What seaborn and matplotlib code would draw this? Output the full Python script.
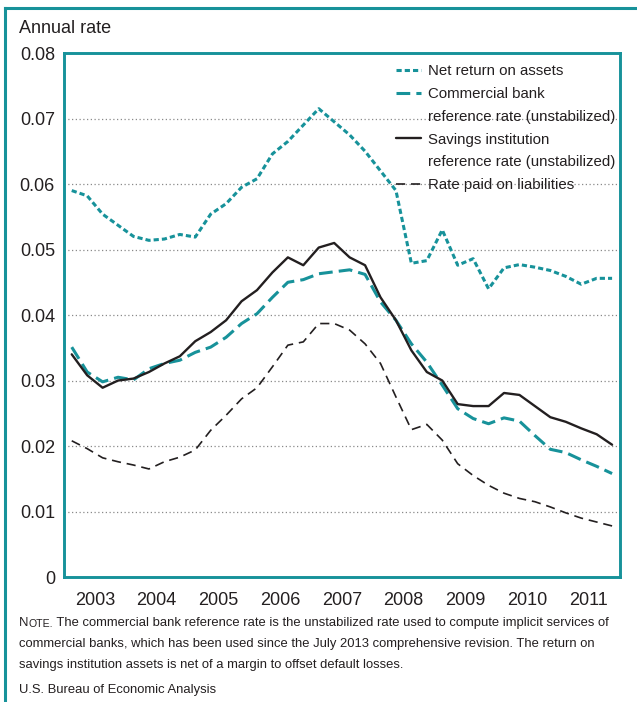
import numpy as np
import pandas as pd
import seaborn as sns
import matplotlib.pyplot as plt
from matplotlib.lines import Line2D
from matplotlib.ticker import FixedLocator, FixedFormatter

sns.set_style('white')
plt.rcParams['font.family'] = ['Liberation Sans', 'DejaVu Sans']

# %% data (quarterly, 2003Q1 - 2011Q4)
years = list(range(2003, 2012))
quarters = [1, 2, 3, 4]

net_return = [0.0590, 0.0582, 0.0554, 0.0537, 0.0520, 0.0514, 0.0516, 0.0523, 0.0519,
              0.0554, 0.0570, 0.0595, 0.0608, 0.0646, 0.0665, 0.0690, 0.0715, 0.0695,
              0.0675, 0.0650, 0.0620, 0.0590, 0.0479, 0.0483, 0.0530, 0.0476, 0.0486,
              0.0440, 0.0472, 0.0477, 0.0473, 0.0468, 0.0459, 0.0447, 0.0456, 0.0456]
commercial = [0.0351, 0.0313, 0.0298, 0.0305, 0.0301, 0.0318, 0.0326, 0.0331, 0.0343,
              0.0351, 0.0366, 0.0387, 0.0402, 0.0427, 0.0450, 0.0454, 0.0463, 0.0466,
              0.0469, 0.0462, 0.0420, 0.0392, 0.0356, 0.0328, 0.0293, 0.0257, 0.0242,
              0.0234, 0.0243, 0.0238, 0.0216, 0.0195, 0.0190, 0.0179, 0.0169, 0.0158]
savings = [0.0340, 0.0308, 0.0289, 0.0300, 0.0303, 0.0313, 0.0326, 0.0337, 0.0360,
           0.0374, 0.0392, 0.0421, 0.0438, 0.0465, 0.0488, 0.0476, 0.0503, 0.0510,
           0.0488, 0.0476, 0.0427, 0.0392, 0.0346, 0.0313, 0.0300, 0.0264, 0.0261,
           0.0261, 0.0281, 0.0278, 0.0261, 0.0244, 0.0237, 0.0227, 0.0218, 0.0202]
liabilities = [0.0208, 0.0196, 0.0182, 0.0176, 0.0171, 0.0165, 0.0176, 0.0183, 0.0194,
               0.0224, 0.0247, 0.0272, 0.0289, 0.0321, 0.0354, 0.0359, 0.0387, 0.0387,
               0.0377, 0.0356, 0.0326, 0.0275, 0.0225, 0.0233, 0.0209, 0.0173, 0.0155,
               0.0140, 0.0128, 0.0120, 0.0115, 0.0107, 0.0098, 0.0090, 0.0084, 0.0078]

y_ticks = [0, 0.01, 0.02, 0.03, 0.04, 0.05, 0.06, 0.07, 0.08]
y_ticklabels = ['0', '0.01', '0.02', '0.03', '0.04', '0.05', '0.06', '0.07', '0.08']

TEAL = '#17929a'
INK = '#231f20'

# time axis: quarter midpoints
t = [y + (q - 0.5) / 4 for y in years for q in quarters]
df = pd.DataFrame({'t': t, 'net': net_return, 'comm': commercial,
                   'sav': savings, 'liab': liabilities})

# %% figure
fig = plt.figure(figsize=(6.37, 7.02), dpi=100)
ax = fig.add_axes([0.1005, 0.178, 0.8725, 0.7465])

ax.yaxis.grid(True, linestyle=(0, (1, 2)), color='#8a8a8a', linewidth=0.9)
ax.set_axisbelow(True)

sns.lineplot(data=df, x='t', y='net', ax=ax, color=TEAL, linewidth=2.2,
             linestyle=(0, (1.7, 1.0)))
sns.lineplot(data=df, x='t', y='comm', ax=ax, color=TEAL, linewidth=2.2,
             linestyle=(0, (4.5, 2.0)))
sns.lineplot(data=df, x='t', y='sav', ax=ax, color=INK, linewidth=1.7)
sns.lineplot(data=df, x='t', y='liab', ax=ax, color=INK, linewidth=1.2,
             linestyle=(0, (5.5, 3.5)))

ax.set_xlim(2003, 2012)
ax.set_ylim(0, 0.08)
ax.set_xlabel('')
ax.set_ylabel('')

ax.set_yticks(y_ticks)
ax.set_yticklabels(y_ticklabels)
ax.tick_params(axis='y', length=0, pad=6.5, labelsize=13, labelcolor=INK)

# year boundaries: long ticks; quarter boundaries: short ticks with year labels mid-year
ax.xaxis.set_major_locator(FixedLocator(years[1:]))
ax.xaxis.set_major_formatter(FixedFormatter([''] * len(years[1:])))
minor_pos = [y + f for y in years for f in (0.25, 0.5, 0.75)]
minor_lab = [s for y in years for s in ('', str(y), '')]
ax.xaxis.set_minor_locator(FixedLocator(minor_pos))
ax.xaxis.set_minor_formatter(FixedFormatter(minor_lab))
ax.tick_params(axis='x', which='major', direction='in', length=18, width=1.1,
               color='#333333', labelsize=13)
ax.tick_params(axis='x', which='minor', direction='in', length=9.5, width=1.1,
               color='#333333', labelsize=13, labelcolor=INK, pad=10.5)

for s in ax.spines.values():
    s.set_visible(True)
    s.set_color(TEAL)
    s.set_linewidth(2.1)

# legend with continuation lines
blank = Line2D([], [], color='none')
handles = [Line2D([], [], color=TEAL, linewidth=2.2, linestyle=(0, (1.7, 1.0))),
           Line2D([], [], color=TEAL, linewidth=2.2, linestyle=(0, (4.5, 2.0))),
           blank,
           Line2D([], [], color=INK, linewidth=1.7),
           blank,
           Line2D([], [], color=INK, linewidth=1.2, linestyle=(0, (5.5, 3.5)))]
labels = ['Net return on assets', 'Commercial bank', 'reference rate (unstabilized)',
          'Savings institution', 'reference rate (unstabilized)', 'Rate paid on liabilities']
leg = ax.legend(handles, labels, loc='upper left', bbox_to_anchor=(0.597, 0.979),
                frameon=False, fontsize=10.8, handlelength=1.7, handletextpad=0.45,
                labelspacing=0.59, borderpad=0, borderaxespad=0)
for txt in leg.get_texts():
    txt.set_color(INK)

# %% texts
fig.text(0.03, 0.96, 'Annual rate', fontsize=13, color=INK, ha='left', va='center')

nfs = 9.4
t1 = fig.text(0.03, 1 - 629 / 702, 'N', fontsize=nfs, color=INK, va='bottom')
t2 = ax.annotate('OTE.', xy=(1, 0), xycoords=t1, fontsize=7.6, color=INK, va='bottom')
ax.annotate(' The commercial bank reference rate is the unstabilized rate used to compute '
            'implicit services of', xy=(1, 0), xycoords=t2, fontsize=nfs, color=INK,
            va='bottom')
fig.text(0.03, 1 - 644 / 702, 'commercial banks, which has been used since the July 2013 '
         'comprehensive revision. The return on', fontsize=nfs, color=INK, va='center')
fig.text(0.03, 1 - 665 / 702, 'savings institution assets is net of a margin to offset '
         'default losses.', fontsize=nfs, color=INK, va='center')
fig.text(0.03, 1 - 690 / 702, 'U.S. Bureau of Economic Analysis', fontsize=nfs,
         color=INK, va='center')

# outer teal frame (left and top edges)
fig.add_artist(Line2D([5 / 637, 5 / 637], [0, 1 - 8 / 702], color=TEAL, linewidth=2.2,
                      transform=fig.transFigure, solid_capstyle='projecting'))
fig.add_artist(Line2D([5 / 637, 1], [1 - 8 / 702, 1 - 8 / 702], color=TEAL, linewidth=2.2,
                      transform=fig.transFigure, solid_capstyle='projecting'))

fig.savefig('out.png', dpi=100)
